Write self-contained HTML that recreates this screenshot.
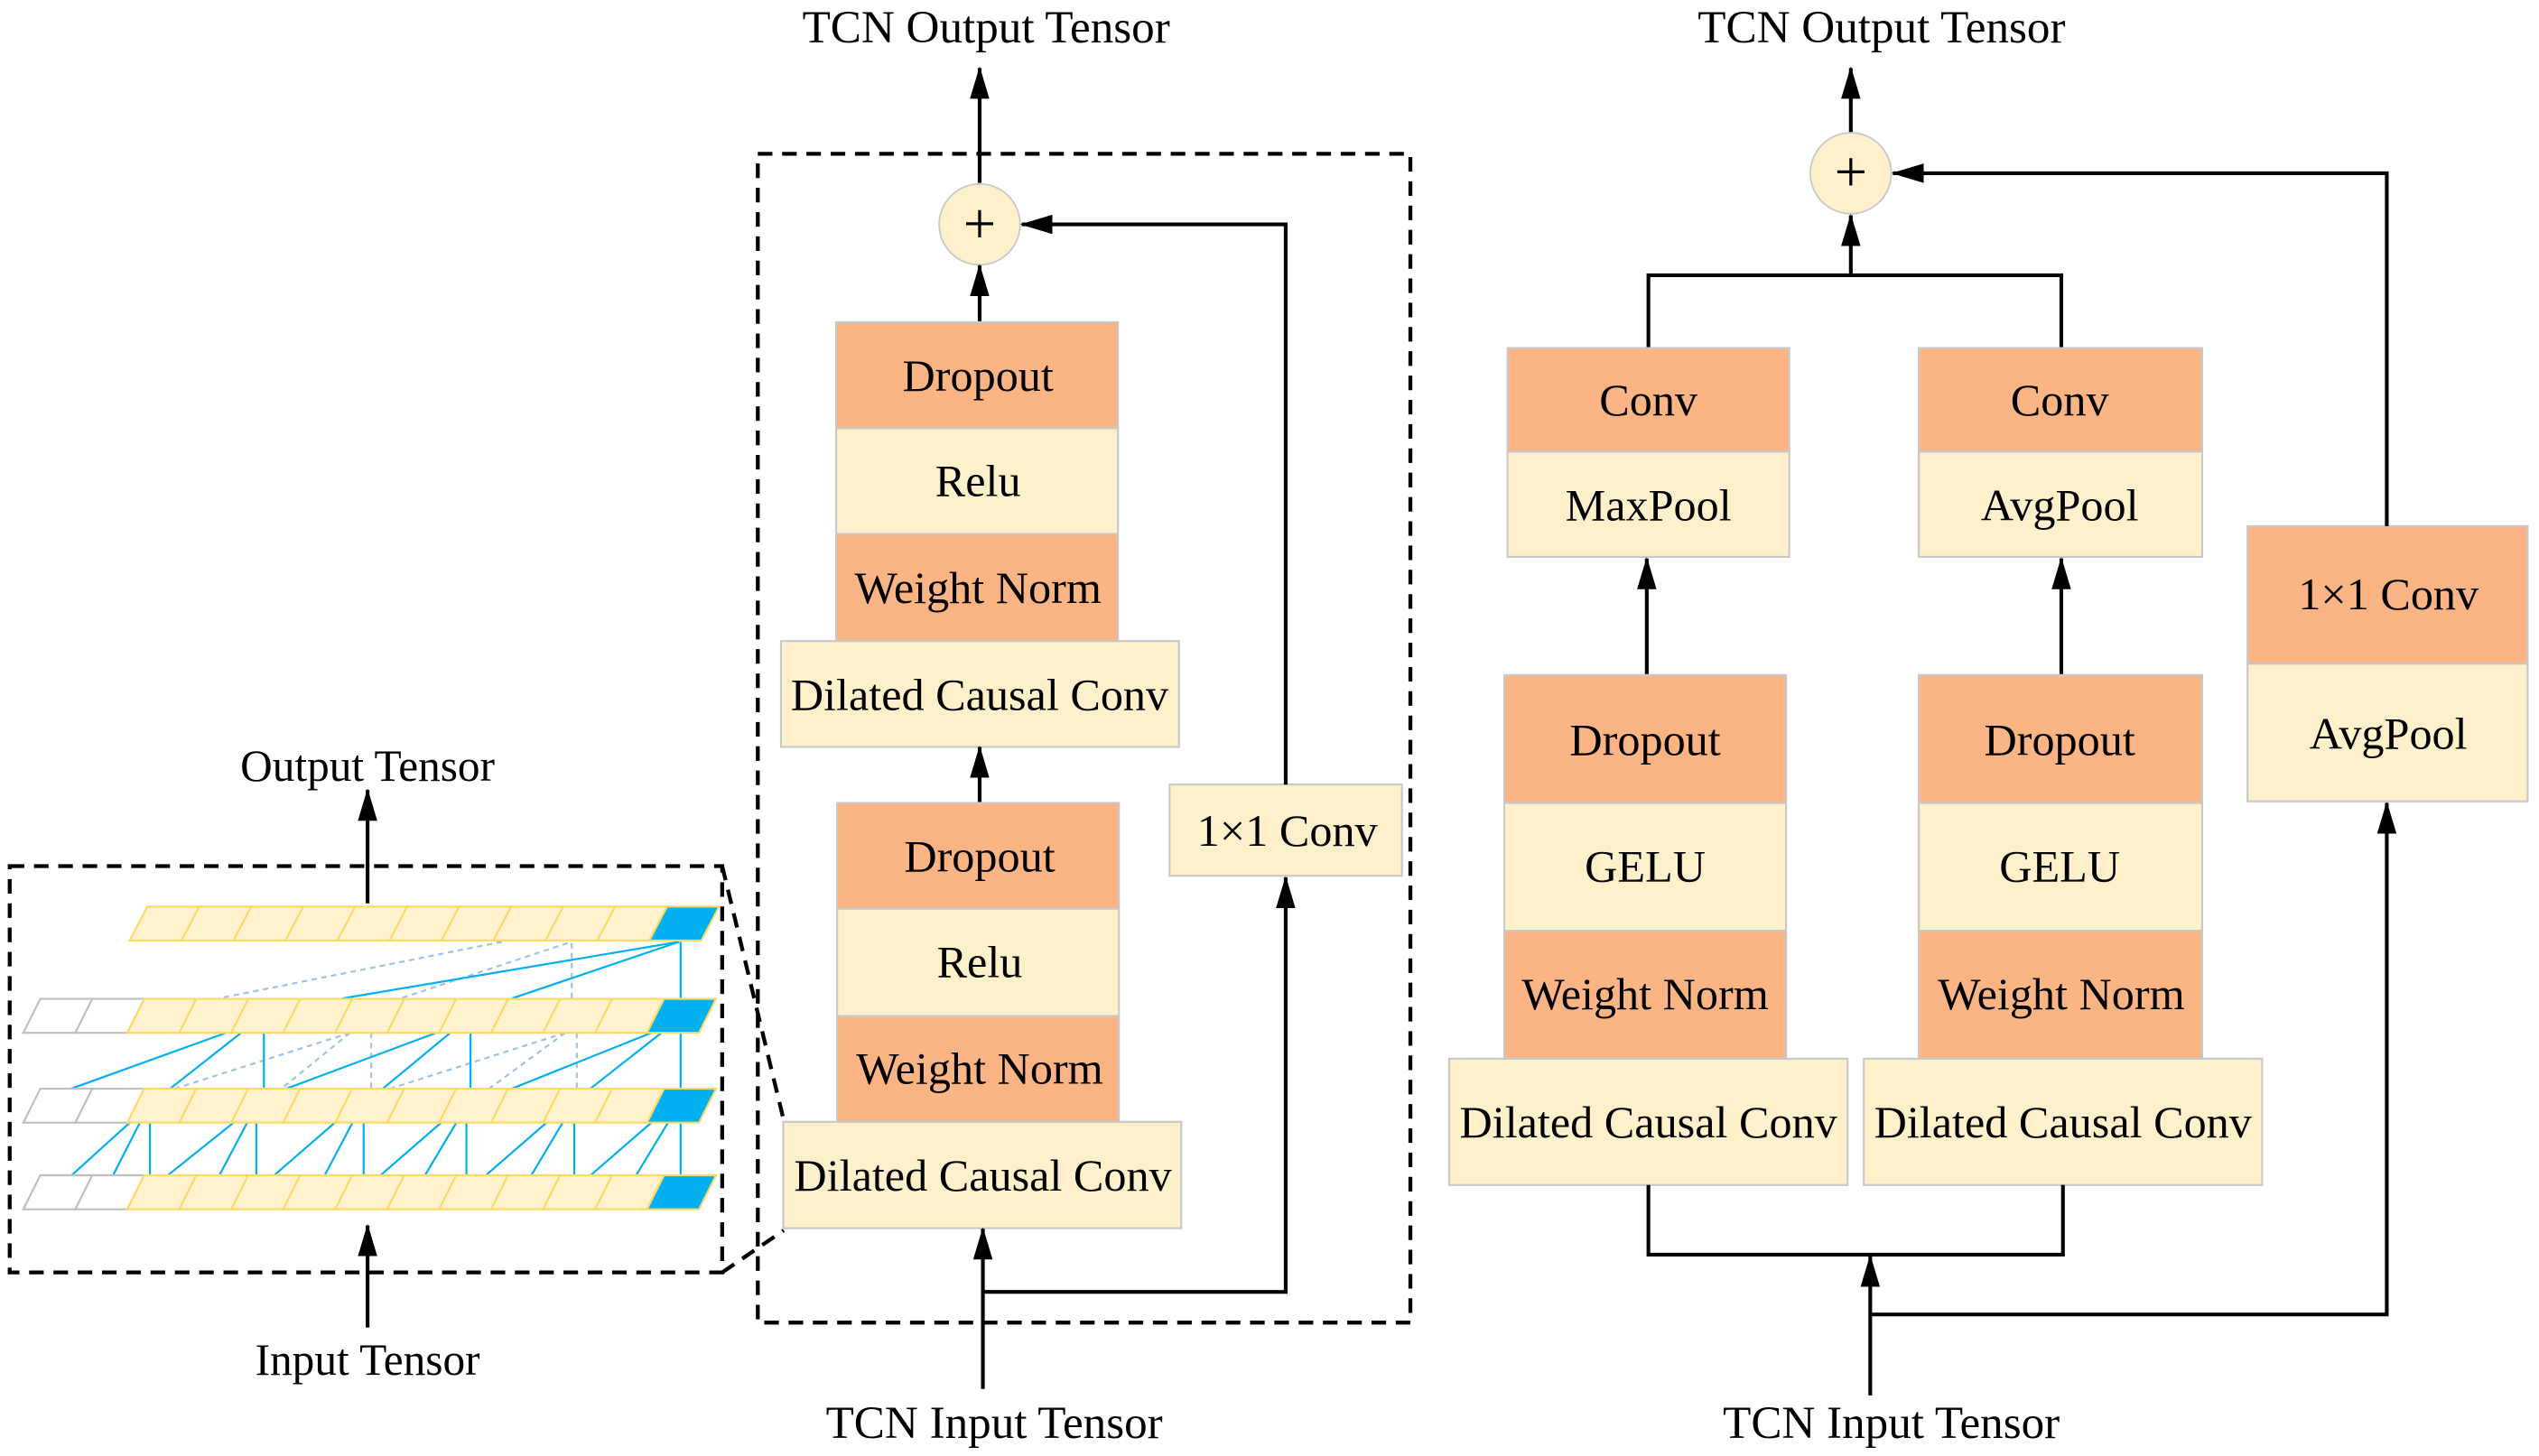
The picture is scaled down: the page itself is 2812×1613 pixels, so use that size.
<!DOCTYPE html>
<html><head><meta charset="utf-8"><style>
html,body{margin:0;padding:0;background:#fff}
svg{display:block}
text{font-family:"Liberation Serif",serif;fill:#000;text-anchor:middle;dominant-baseline:central}
.o{fill:#fbb584;stroke:#c8c8c8;stroke-width:1.2}
.c{fill:#fff0cc;stroke:#c8c8c8;stroke-width:1.2}
.l{stroke:#000;stroke-width:2.3;fill:none}
.d{stroke:#000;stroke-width:2.4;fill:none;stroke-dasharray:9 6}
.b{stroke:#00b0f0;stroke-width:2.2;vector-effect:non-scaling-stroke}
.bd{stroke:#9dc3e6;stroke-width:2.2;stroke-dasharray:6 5;vector-effect:non-scaling-stroke}
</style></head><body>
<svg width="2812" height="1613" viewBox="0 0 1568 899.4" xmlns="http://www.w3.org/2000/svg">
<defs>
<marker id="A" viewBox="0 0 20 12" refX="19" refY="6" markerWidth="20" markerHeight="12" markerUnits="userSpaceOnUse" orient="auto">
<path d="M0,0 L20,6 L0,12 z" fill="#000"/></marker>
</defs>

<!-- LEFT -->
<rect x="6" y="535" width="440" height="251" class="d"/>
<line x1="446" y1="535" x2="484" y2="692" class="d"/>
<line x1="446" y1="786" x2="484" y2="760" class="d"/>
<text x="227" y="473" font-size="27.5">Output Tensor</text>
<line x1="227" y1="558" x2="227" y2="488" class="l" marker-end="url(#A)"/>
<text x="227" y="840" font-size="27.5">Input Tensor</text>
<line x1="227" y1="820" x2="227" y2="757" class="l" marker-end="url(#A)"/>

<g transform="translate(0.371,524.8) scale(0.3127,0.185)">
<line class="bd" x1="990" y1="308" x2="430" y2="497"/>
<line class="bd" x1="1120" y1="312" x2="790" y2="497"/>
<line class="bd" x1="1128" y1="312" x2="1128" y2="497"/>
<line class="b" x1="1340" y1="308" x2="675" y2="497"/>
<line class="b" x1="1340" y1="308" x2="1010" y2="497"/>
<line class="b" x1="1343" y1="308" x2="1343" y2="497"/>

<line class="bd" x1="690" y1="612" x2="345" y2="798"/>
<line class="bd" x1="690" y1="612" x2="555" y2="798"/>
<line class="bd" x1="732" y1="612" x2="732" y2="798"/>
<line class="bd" x1="1115" y1="612" x2="770" y2="798"/>
<line class="bd" x1="1115" y1="612" x2="965" y2="798"/>
<line class="bd" x1="1138" y1="612" x2="1138" y2="798"/>
<line class="b" x1="445" y1="612" x2="140" y2="798"/>
<line class="b" x1="475" y1="612" x2="335" y2="798"/>
<line class="b" x1="520" y1="612" x2="520" y2="798"/>
<line class="b" x1="860" y1="612" x2="565" y2="798"/>
<line class="b" x1="888" y1="612" x2="755" y2="798"/>
<line class="b" x1="928" y1="612" x2="928" y2="798"/>
<line class="b" x1="1285" y1="612" x2="1010" y2="798"/>
<line class="b" x1="1305" y1="612" x2="1165" y2="798"/>
<line class="b" x1="1343" y1="612" x2="1343" y2="798"/>

<line class="b" x1="255" y1="912" x2="140" y2="1088"/><line class="b" x1="275" y1="912" x2="222" y2="1088"/><line class="b" x1="295" y1="912" x2="295" y2="1088"/>
<line class="b" x1="460" y1="912" x2="330" y2="1088"/><line class="b" x1="487" y1="912" x2="432" y2="1088"/><line class="b" x1="505" y1="912" x2="505" y2="1088"/>
<line class="b" x1="660" y1="912" x2="540" y2="1088"/><line class="b" x1="695" y1="912" x2="640" y2="1088"/><line class="b" x1="717" y1="912" x2="717" y2="1088"/>
<line class="b" x1="870" y1="912" x2="750" y2="1088"/><line class="b" x1="900" y1="912" x2="838" y2="1088"/><line class="b" x1="920" y1="912" x2="920" y2="1088"/>
<line class="b" x1="1078" y1="912" x2="958" y2="1088"/><line class="b" x1="1110" y1="912" x2="1048" y2="1088"/><line class="b" x1="1133" y1="912" x2="1133" y2="1088"/>
<line class="b" x1="1285" y1="912" x2="1165" y2="1088"/><line class="b" x1="1318" y1="912" x2="1255" y2="1088"/><line class="b" x1="1343" y1="912" x2="1343" y2="1088"/>
</g>

<g stroke-width="1.2">
<polygon points="80,581 112.1,581 123.1,560 91,560" fill="#fff2cc" stroke="#ffd966"/>
<polygon points="112.1,581 144.2,581 155.2,560 123.1,560" fill="#fff2cc" stroke="#ffd966"/>
<polygon points="144.2,581 176.3,581 187.3,560 155.2,560" fill="#fff2cc" stroke="#ffd966"/>
<polygon points="176.3,581 208.4,581 219.4,560 187.3,560" fill="#fff2cc" stroke="#ffd966"/>
<polygon points="208.4,581 240.5,581 251.5,560 219.4,560" fill="#fff2cc" stroke="#ffd966"/>
<polygon points="240.5,581 272.6,581 283.6,560 251.5,560" fill="#fff2cc" stroke="#ffd966"/>
<polygon points="272.6,581 304.7,581 315.7,560 283.6,560" fill="#fff2cc" stroke="#ffd966"/>
<polygon points="304.7,581 336.8,581 347.8,560 315.7,560" fill="#fff2cc" stroke="#ffd966"/>
<polygon points="336.8,581 368.9,581 379.9,560 347.8,560" fill="#fff2cc" stroke="#ffd966"/>
<polygon points="368.9,581 401,581 412,560 379.9,560" fill="#fff2cc" stroke="#ffd966"/>
<polygon points="401,581 433.1,581 444.1,560 412,560" fill="#00b0f0" stroke="#ffd966"/>
</g>
<g stroke-width="1.2">
<g id="r1">
<polygon points="14.4,638 46.5,638 57,617 24.9,617" fill="#fff" stroke="#bfbfbf"/>
<polygon points="46.5,638 78.6,638 89.1,617 57,617" fill="#fff" stroke="#bfbfbf"/>
<polygon points="78.6,638 110.7,638 121.2,617 89.1,617" fill="#fff2cc" stroke="#ffd966"/>
<polygon points="110.7,638 142.8,638 153.3,617 121.2,617" fill="#fff2cc" stroke="#ffd966"/>
<polygon points="142.8,638 174.9,638 185.4,617 153.3,617" fill="#fff2cc" stroke="#ffd966"/>
<polygon points="174.9,638 207,638 217.5,617 185.4,617" fill="#fff2cc" stroke="#ffd966"/>
<polygon points="207,638 239.1,638 249.6,617 217.5,617" fill="#fff2cc" stroke="#ffd966"/>
<polygon points="239.1,638 271.2,638 281.7,617 249.6,617" fill="#fff2cc" stroke="#ffd966"/>
<polygon points="271.2,638 303.3,638 313.8,617 281.7,617" fill="#fff2cc" stroke="#ffd966"/>
<polygon points="303.3,638 335.4,638 345.9,617 313.8,617" fill="#fff2cc" stroke="#ffd966"/>
<polygon points="335.4,638 367.5,638 378,617 345.9,617" fill="#fff2cc" stroke="#ffd966"/>
<polygon points="367.5,638 399.6,638 410.1,617 378,617" fill="#fff2cc" stroke="#ffd966"/>
<polygon points="399.6,638 431.7,638 442.2,617 410.1,617" fill="#00b0f0" stroke="#ffd966"/>
</g>
<use href="#r1" transform="translate(0,55.5)"/>
<use href="#r1" transform="translate(0,109)"/>
</g>

<!-- MIDDLE -->
<rect x="468" y="95" width="403" height="722" class="d"/>
<text x="609" y="17" font-size="28.5">TCN Output Tensor</text>
<line x1="605" y1="113" x2="605" y2="42" class="l" marker-end="url(#A)"/>
<ellipse cx="605" cy="138.6" rx="25" ry="25" fill="#fff0cc" stroke="#c8c8c8"/>
<text x="605" y="138" font-size="36">+</text>
<line x1="605" y1="199" x2="605" y2="164" class="l" marker-end="url(#A)"/>
<rect x="516.4" y="199" width="174" height="65.5" class="o"/><text x="604" y="232" font-size="28">Dropout</text>
<rect x="516.4" y="264.5" width="174" height="65.3" class="c"/><text x="604" y="297" font-size="28">Relu</text>
<rect x="516.4" y="329.8" width="174" height="66.2" class="o"/><text x="604" y="363" font-size="28">Weight Norm</text>
<rect x="482.3" y="396" width="245.8" height="65.4" class="c"/><text x="605" y="429" font-size="28">Dilated Causal Conv</text>
<line x1="605" y1="496" x2="605" y2="461.5" class="l" marker-end="url(#A)"/>
<rect x="517" y="496" width="174" height="65.3" class="o"/><text x="605" y="529" font-size="28">Dropout</text>
<rect x="517" y="561.3" width="174" height="66.3" class="c"/><text x="605" y="594" font-size="28">Relu</text>
<rect x="517" y="627.6" width="174" height="65.4" class="o"/><text x="605" y="660" font-size="28">Weight Norm</text>
<rect x="483.7" y="693" width="245.8" height="65.7" class="c"/><text x="607" y="726" font-size="28">Dilated Causal Conv</text>
<rect x="722.3" y="484.6" width="143.5" height="56.4" class="c"/><text x="795" y="513" font-size="28">1×1 Conv</text>
<line x1="607" y1="858" x2="607" y2="759" class="l" marker-end="url(#A)"/>
<polyline points="607,798 794,798 794,542" class="l" marker-end="url(#A)"/>
<polyline points="794,484.6 794,138.6 631,138.6" class="l" marker-end="url(#A)"/>
<text x="614" y="879" font-size="28.5">TCN Input Tensor</text>

<!-- RIGHT -->
<text x="1162" y="17" font-size="28.5">TCN Output Tensor</text>
<line x1="1143" y1="82" x2="1143" y2="42" class="l" marker-end="url(#A)"/>
<ellipse cx="1143" cy="107" rx="25" ry="25" fill="#fff0cc" stroke="#c8c8c8"/>
<text x="1143" y="106" font-size="36">+</text>
<line x1="1143" y1="170" x2="1143" y2="133" class="l" marker-end="url(#A)"/>
<polyline points="1018,215 1018,170 1273,170 1273,215" class="l"/>
<rect x="931" y="215" width="174" height="64" class="o"/><text x="1018" y="247" font-size="28">Conv</text>
<rect x="931" y="279" width="174" height="65" class="c"/><text x="1018" y="312" font-size="28">MaxPool</text>
<rect x="1185" y="215" width="175" height="64" class="o"/><text x="1272" y="247" font-size="28">Conv</text>
<rect x="1185" y="279" width="175" height="65" class="c"/><text x="1272" y="312" font-size="28">AvgPool</text>
<line x1="1017" y1="417" x2="1017" y2="345" class="l" marker-end="url(#A)"/>
<line x1="1273" y1="417" x2="1273" y2="345" class="l" marker-end="url(#A)"/>
<rect x="929" y="417" width="174" height="79" class="o"/><text x="1016" y="457" font-size="28">Dropout</text>
<rect x="929" y="496" width="174" height="79" class="c"/><text x="1016" y="535" font-size="28">GELU</text>
<rect x="929" y="575" width="174" height="79" class="o"/><text x="1016" y="614" font-size="28">Weight Norm</text>
<rect x="895" y="654" width="246" height="78" class="c"/><text x="1018" y="693" font-size="28">Dilated Causal Conv</text>
<rect x="1185" y="417" width="175" height="79" class="o"/><text x="1272" y="457" font-size="28">Dropout</text>
<rect x="1185" y="496" width="175" height="79" class="c"/><text x="1272" y="535" font-size="28">GELU</text>
<rect x="1185" y="575" width="175" height="79" class="o"/><text x="1273" y="614" font-size="28">Weight Norm</text>
<rect x="1151" y="654" width="246" height="78" class="c"/><text x="1274" y="693" font-size="28">Dilated Causal Conv</text>
<polyline points="1018,732 1018,775 1274,775 1274,732" class="l"/>
<line x1="1155" y1="862" x2="1155" y2="776" class="l" marker-end="url(#A)"/>
<polyline points="1155,812 1474,812 1474,496" class="l" marker-end="url(#A)"/>
<rect x="1388" y="325" width="173" height="85" class="o"/><text x="1475" y="367" font-size="28">1×1 Conv</text>
<rect x="1388" y="410" width="173" height="85" class="c"/><text x="1475" y="453" font-size="28">AvgPool</text>
<polyline points="1474,325 1474,107 1169,107" class="l" marker-end="url(#A)"/>
<text x="1168" y="879" font-size="28.5">TCN Input Tensor</text>
</svg>
</body></html>
